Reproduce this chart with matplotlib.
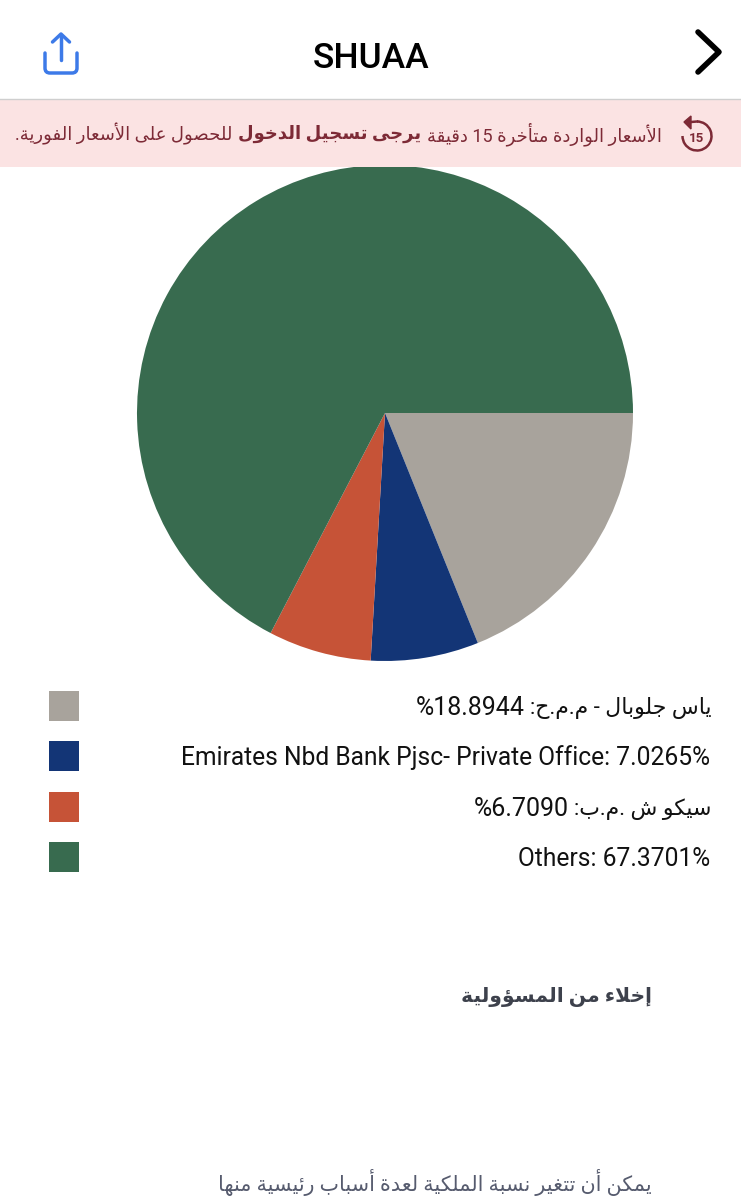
import re
import matplotlib
matplotlib.use("Agg")
import matplotlib.pyplot as plt
from matplotlib.patches import Rectangle, Arc, PathPatch
from matplotlib.path import Path

W, H = 741, 1199

# data
title = "SHUAA"
names = ["ياس جلوبال - م.م.ح", "Emirates Nbd Bank Pjsc- Private Office", "سيكو ش .م.ب", "Others"]
shares = [18.8944, 7.0265, 6.7090, 67.3701]
colors = ["#a8a39c", "#133576", "#c65337", "#386b4f"]
banner_parts = [
    ("الأسعار الواردة متأخرة 15 دقيقة", "normal"),
    ("يرجى تسجيل الدخول", "bold"),
    ("للحصول على الأسعار الفورية.", "normal"),
]
disclaimer_head = "إخلاء من المسؤولية"
disclaimer_line = "يمكن أن تتغير نسبة الملكية لعدة أسباب رئيسية منها"

# arabic presentation forms, matplotlib does no shaping by itself
FORMS = {'ء': (0xFE80, 1), 'آ': (0xFE81, 2), 'أ': (0xFE83, 2), 'ؤ': (0xFE85, 2), 'إ': (0xFE87, 2),
         'ئ': (0xFE89, 4), 'ا': (0xFE8D, 2), 'ب': (0xFE8F, 4), 'ة': (0xFE93, 2), 'ت': (0xFE95, 4),
         'ث': (0xFE99, 4), 'ج': (0xFE9D, 4), 'ح': (0xFEA1, 4), 'خ': (0xFEA5, 4), 'د': (0xFEA9, 2),
         'ذ': (0xFEAB, 2), 'ر': (0xFEAD, 2), 'ز': (0xFEAF, 2), 'س': (0xFEB1, 4), 'ش': (0xFEB5, 4),
         'ص': (0xFEB9, 4), 'ض': (0xFEBD, 4), 'ط': (0xFEC1, 4), 'ظ': (0xFEC5, 4), 'ع': (0xFEC9, 4),
         'غ': (0xFECD, 4), 'ف': (0xFED1, 4), 'ق': (0xFED5, 4), 'ك': (0xFED9, 4), 'ل': (0xFEDD, 4),
         'م': (0xFEE1, 4), 'ن': (0xFEE5, 4), 'ه': (0xFEE9, 4), 'و': (0xFEED, 2), 'ى': (0xFEEF, 2),
         'ي': (0xFEF1, 4)}
LAM_ALEF = {'آ': 0xFEF5, 'أ': 0xFEF7, 'إ': 0xFEF9, 'ا': 0xFEFB}


def shape(text):
    out = []
    i = 0
    joins = False
    while i < len(text):
        ch = text[i]
        if ch not in FORMS:
            out.append(ch)
            joins = False
            i += 1
            continue
        if ch == 'ل' and i + 1 < len(text) and text[i + 1] in LAM_ALEF:
            out.append(chr(LAM_ALEF[text[i + 1]] + (1 if joins else 0)))
            joins = False
            i += 2
            continue
        start, n = FORMS[ch]
        nxt = text[i + 1] if i + 1 < len(text) else ''
        next_ok = nxt in FORMS and nxt != 'ء'
        if n == 1:
            form = 0
        elif n == 2:
            form = 1 if joins else 0
        elif joins and next_ok:
            form = 3
        elif joins:
            form = 1
        elif next_ok:
            form = 2
        else:
            form = 0
        out.append(chr(start + form))
        joins = n == 4
        i += 1
    return ''.join(out)


def rtl(text):
    parts = re.split(r'(\d+)', shape(text))
    return ''.join(p if p.isdigit() else p[::-1] for p in parts[::-1])


plt.rcParams['font.family'] = ['Roboto', 'DejaVu Sans']

fig = plt.figure(figsize=(W / 100, H / 100), dpi=100, facecolor="white")

# pie
cx, cy, r = 385, 413, 248
ax = fig.add_axes([(cx - r) / W, 1 - (cy + r) / H, 2 * r / W, 2 * r / H])
ax.pie(shares, colors=colors, startangle=0, counterclock=False, radius=1)
ax.set_xlim(-1, 1)
ax.set_ylim(-1, 1)
ax.set_zorder(1)

# everything else in pixel coordinates
ui = fig.add_axes([0, 0, 1, 1], facecolor="none")
ui.set_xlim(0, W)
ui.set_ylim(H, 0)
ui.axis("off")
ui.set_zorder(2)

# header
ui.text(371, 58, title, ha="center", va="center", fontsize=25.5, fontweight="medium", color="black")
ui.plot([698, 719, 698], [32, 52, 72], color="black", lw=4, solid_capstyle="round", solid_joinstyle="round")

blue = "#3d7ae8"
tray = Path([(45, 53), (45, 68), (45, 73), (50, 73), (72, 73), (77, 73), (77, 68), (77, 53)],
            [Path.MOVETO, Path.LINETO, Path.CURVE3, Path.CURVE3, Path.LINETO, Path.CURVE3, Path.CURVE3, Path.LINETO])
ui.add_patch(PathPatch(tray, facecolor="none", edgecolor=blue, lw=2.5, capstyle="round"))
ui.plot([61, 61], [35, 60], color=blue, lw=2.5, solid_capstyle="round")
ui.plot([52.5, 61, 69.5], [42, 34, 42], color=blue, lw=2.5, solid_capstyle="round", solid_joinstyle="round")

# banner
ui.add_patch(Rectangle((0, 99), W, 68, facecolor="#fbe3e3", edgecolor="none", zorder=3))
ui.plot([0, W], [98.5, 98.5], color="#cfcfcf", lw=1, zorder=3)
banner_col = "#7d2a36"
ui.add_patch(Arc((697, 136), 29, 29, theta1=-90, theta2=180, color=banner_col, lw=1.8, zorder=4))
ui.plot([691, 697], [122, 121.5], color=banner_col, lw=1.8, zorder=4)
ui.fill([691, 684, 691], [116, 122, 129], color=banner_col, zorder=4)
ui.text(697, 138, "15", ha="center", va="center", fontsize=9.5, fontweight="bold", color=banner_col, zorder=4)

renderer = fig.canvas.get_renderer()
x = 662
for txt, weight in banner_parts:
    t = ui.text(x, 134, rtl(txt), ha="right", va="center", fontsize=13, fontweight=weight,
                color=banner_col, zorder=4)
    x -= t.get_window_extent(renderer).width + 6

# legend
legend_y = [706, 756, 807, 857]
for y, name, share, col in zip(legend_y, names, shares, colors):
    ui.add_patch(Rectangle((49, y - 15), 30, 30, facecolor=col, edgecolor="none"))
    if name[0].isascii():
        ui.text(710, y + 2, f"{name}: {share:.4f}%", ha="right", va="center", fontsize=17.7, color="#111111")
    else:
        t = ui.text(711, y + 2, ":" + rtl(name), ha="right", va="center", fontsize=15.8, color="#111111")
        left = 711 - t.get_window_extent(renderer).width - 5
        ui.text(left, y + 2, f"%{share:.4f}", ha="right", va="center", fontsize=18, color="#111111")

# disclaimer
ui.text(652, 997, rtl(disclaimer_head), ha="right", va="center", fontsize=14.6, fontweight="bold", color="#3d414c")
ui.text(652, 1182, rtl(disclaimer_line), ha="right", va="center", fontsize=14.85, color="#565b6e")

fig.savefig("out.png", dpi=100)
